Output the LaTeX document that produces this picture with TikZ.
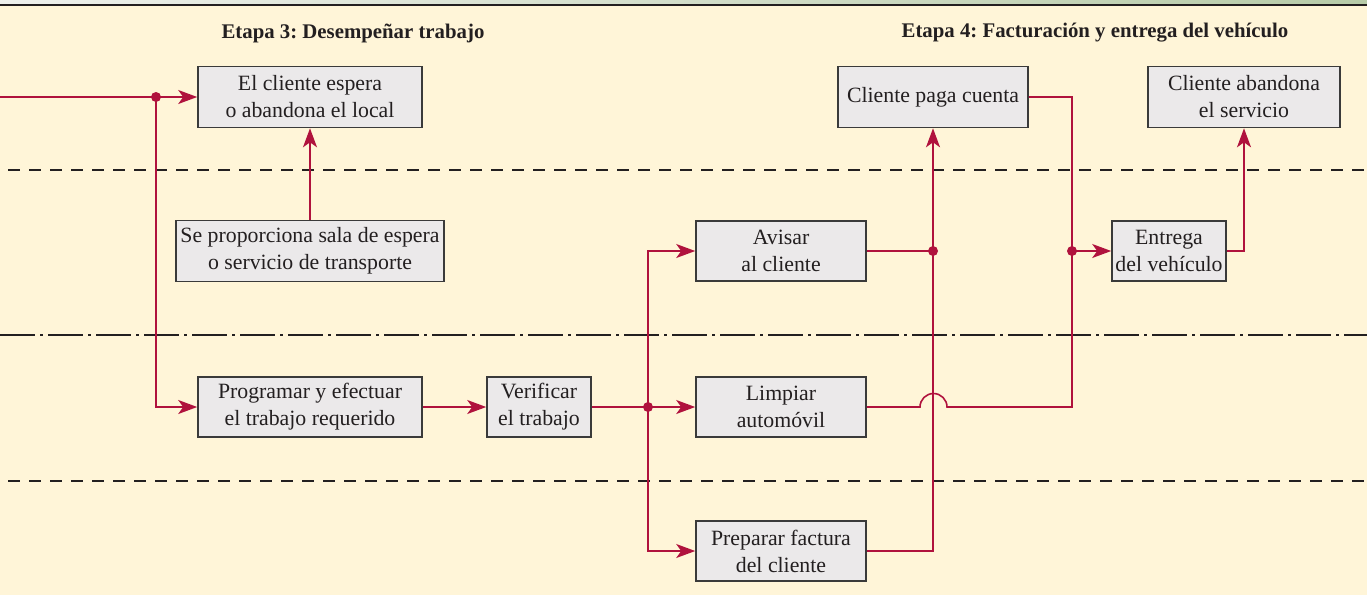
\documentclass[tikz,border=0pt]{standalone}
\usepackage{fontspec}
\setmainfont{Liberation Serif}
\frenchspacing
\usetikzlibrary{arrows.meta}
\definecolor{cream}{HTML}{FFF5D8}
\definecolor{flowred}{HTML}{B0123D}
\definecolor{boxfill}{HTML}{EBE9EA}
\definecolor{boxline}{HTML}{3A3A3A}
\definecolor{ink}{HTML}{231F20}
\definecolor{bargreen}{HTML}{B7CBA8}
\definecolor{barlight}{HTML}{EEF0EC}

\begin{document}
\begin{tikzpicture}[
  x=1pt,
  y=-1pt,
  task/.style={draw=boxline,fill=boxfill,line width=1.6pt,text=ink,align=center,inner sep=0pt,font=\fontsize{21.8}{27}\selectfont},
  stage/.style={text=ink,font=\fontsize{20.8}{24}\selectfont\bfseries},
  flow/.style={draw=flowred,line width=1.6pt},
  arr/.style={flow,-{Stealth[length=19pt,width=14pt,inset=5pt]}},
  lane/.style={draw=ink,line width=1.4pt,dash pattern=on 12pt off 9pt},
  phase/.style={draw=ink,line width=1.4pt,dash pattern=on 35pt off 5pt on 3pt off 5pt}
]
  \fill[cream] (0,0) rectangle (1367,595);
  \useasboundingbox (0,0) rectangle (1367,595);
  \shade[left color=barlight,right color=bargreen] (0,0) rectangle (1367,4);
  \draw[ink,line width=2pt] (0,5)--(1367,5);

  \draw[lane] (8,170)--(1367,170);
  \draw[phase] (0,335)--(1367,335);
  \draw[lane] (8,481)--(1367,481);

  \node[stage] (etapa3) at (353,33) {Etapa 3: Desempeñar trabajo};
  \node[stage] (etapa4) at (1095,33) {Etapa 4: Facturación y entrega del vehículo};

  \node[task,minimum width=224,minimum height=61] (espera) at (310,97) {El cliente espera\\o abandona el local};
  \node[task,minimum width=268,minimum height=61] (sala) at (310,251) {Se proporciona sala de espera\\o servicio de transporte};
  \node[task,minimum width=224,minimum height=60] (programar) at (310,407) {Programar y efectuar\\el trabajo requerido};
  \node[task,minimum width=104,minimum height=60] (verificar) at (539,407) {Verificar\\el trabajo};
  \node[task,minimum width=170,minimum height=60] (avisar) at (781,251) {Avisar\\al cliente};
  \node[task,minimum width=170,minimum height=60] (limpiar) at (781,407) {Limpiar\\automóvil};
  \node[task,minimum width=170,minimum height=60] (factura) at (781,551) {Preparar factura\\del cliente};
  \node[task,minimum width=190,minimum height=61] (paga) at (933,97) {Cliente paga cuenta};
  \node[task,minimum width=192,minimum height=61] (abandona) at (1244,97) {Cliente abandona\\el servicio};
  \node[task,minimum width=114,minimum height=60] (entrega) at (1169,251) {Entrega\\del vehículo};

  \coordinate (entrada) at (0,97);
  \coordinate (j1) at (156,97);
  \coordinate (j2) at (648,407);
  \coordinate (j3) at (933,251);
  \coordinate (j4) at (1072,251);
  \coordinate (salto) at (920,407);
  \coordinate (esq) at (1072,407);

  \draw[arr] (entrada)--(espera);
  \draw[arr] (j1)|-(programar.west);
  \draw[arr] (sala)--(espera);
  \draw[arr] (programar)--(verificar);
  \draw[arr] (verificar)--(limpiar);
  \draw[arr] (j2)|-(avisar.west);
  \draw[arr] (j2)|-(factura.west);
  \draw[flow] (avisar)--(j3);
  \draw[arr] (factura.east)-|(paga.south);
  \draw[flow] (limpiar.east)--(salto) arc[start angle=180,end angle=0,radius=13.5pt]--(esq)|-(paga.east);
  \draw[arr] (j4)--(entrega);
  \draw[arr] (entrega.east)-|(abandona.south);

  \fill[flowred] (j1) circle (5pt);
  \fill[flowred] (j2) circle (5pt);
  \fill[flowred] (j3) circle (5pt);
  \fill[flowred] (j4) circle (5pt);
\end{tikzpicture}
\end{document}
